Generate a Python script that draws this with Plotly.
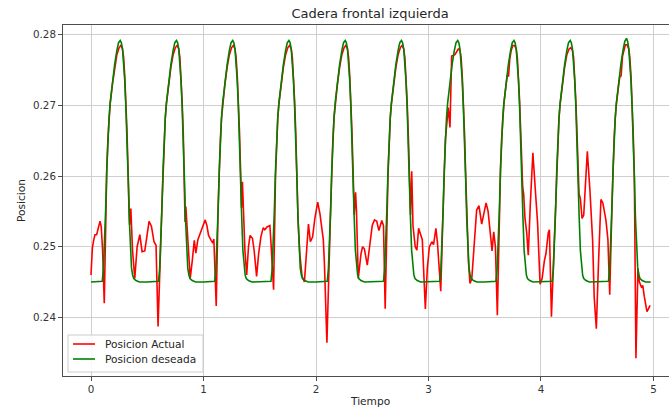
import plotly.graph_objects as go

title_text = "Cadera frontal izquierda"
x_label = "Tiempo"
y_label = "Posicion"
series_names = ["Posicion Actual", "Posicion deseada"]
series_colors = ["#ff0000", "#008000"]
x_ticks = [0, 1, 2, 3, 4, 5]
x_tick_labels = ["0", "1", "2", "3", "4", "5"]
y_ticks = [0.24, 0.25, 0.26, 0.27, 0.28]
y_tick_labels = ["0.24", "0.25", "0.26", "0.27", "0.28"]

# Desired position (green)
desired_time = [
    0.00, 0.10, 0.11, 0.12, 0.13, 0.14, 0.15, 0.16, 0.17, 0.19, 0.21, 0.23, 0.245, 0.26, 0.27, 0.28, 0.29, 0.30, 0.31, 0.32, 0.33, 0.34, 0.35, 0.36, 0.37, 0.38, 0.40, 0.43,
    0.50, 0.60, 0.61, 0.62, 0.63, 0.64, 0.65, 0.66, 0.67, 0.69, 0.71, 0.73, 0.745, 0.76, 0.77, 0.78, 0.79, 0.80, 0.81, 0.82, 0.83, 0.84, 0.85, 0.86, 0.87, 0.88, 0.90, 0.93,
    1.00, 1.10, 1.11, 1.12, 1.13, 1.14, 1.15, 1.16, 1.17, 1.19, 1.21, 1.23, 1.245, 1.26, 1.27, 1.28, 1.29, 1.30, 1.31, 1.32, 1.33, 1.34, 1.35, 1.36, 1.37, 1.38, 1.40, 1.43,
    1.50, 1.60, 1.61, 1.62, 1.63, 1.64, 1.65, 1.66, 1.67, 1.69, 1.71, 1.73, 1.745, 1.76, 1.77, 1.78, 1.79, 1.80, 1.81, 1.82, 1.83, 1.84, 1.85, 1.86, 1.87, 1.88, 1.90, 1.93,
    2.00, 2.10, 2.11, 2.12, 2.13, 2.14, 2.15, 2.16, 2.17, 2.19, 2.21, 2.23, 2.245, 2.26, 2.27, 2.28, 2.29, 2.30, 2.31, 2.32, 2.33, 2.34, 2.35, 2.36, 2.37, 2.38, 2.40, 2.43,
    2.50, 2.60, 2.61, 2.62, 2.63, 2.64, 2.65, 2.66, 2.67, 2.69, 2.71, 2.73, 2.745, 2.76, 2.77, 2.78, 2.79, 2.80, 2.81, 2.82, 2.83, 2.84, 2.85, 2.86, 2.87, 2.88, 2.90, 2.93,
    3.00, 3.10, 3.11, 3.12, 3.13, 3.14, 3.15, 3.16, 3.17, 3.19, 3.21, 3.23, 3.245, 3.26, 3.27, 3.28, 3.29, 3.30, 3.31, 3.32, 3.33, 3.34, 3.35, 3.36, 3.37, 3.38, 3.40, 3.43,
    3.50, 3.60, 3.61, 3.62, 3.63, 3.64, 3.65, 3.66, 3.67, 3.69, 3.71, 3.73, 3.745, 3.76, 3.77, 3.78, 3.79, 3.80, 3.81, 3.82, 3.83, 3.84, 3.85, 3.86, 3.87, 3.88, 3.90, 3.93,
    4.00, 4.10, 4.11, 4.12, 4.13, 4.14, 4.15, 4.16, 4.17, 4.19, 4.21, 4.23, 4.245, 4.26, 4.27, 4.28, 4.29, 4.30, 4.31, 4.32, 4.33, 4.34, 4.35, 4.36, 4.37, 4.38, 4.40, 4.43,
    4.50, 4.60, 4.61, 4.62, 4.63, 4.64, 4.65, 4.66, 4.67, 4.69, 4.71, 4.73, 4.745, 4.76, 4.77, 4.78, 4.79, 4.80, 4.81, 4.82, 4.83, 4.84, 4.85, 4.86, 4.87, 4.88, 4.90, 4.93,
    4.975,
]
desired_pos = [
    0.2450, 0.2451, 0.2468, 0.2500, 0.2552, 0.2608, 0.2650, 0.2682, 0.2703, 0.2733, 0.2758, 0.2778, 0.2789, 0.2792, 0.2789, 0.2780, 0.2763, 0.2735, 0.2698, 0.2655, 0.2598, 0.2540, 0.2495, 0.2470, 0.2460, 0.2455, 0.2452, 0.2450,
    0.2450, 0.2451, 0.2468, 0.2500, 0.2552, 0.2608, 0.2650, 0.2682, 0.2703, 0.2733, 0.2758, 0.2778, 0.2789, 0.2792, 0.2789, 0.2780, 0.2763, 0.2735, 0.2698, 0.2655, 0.2598, 0.2540, 0.2495, 0.2470, 0.2460, 0.2455, 0.2452, 0.2450,
    0.2450, 0.2451, 0.2468, 0.2500, 0.2552, 0.2608, 0.2650, 0.2682, 0.2703, 0.2733, 0.2758, 0.2778, 0.2789, 0.2792, 0.2789, 0.2780, 0.2763, 0.2735, 0.2698, 0.2655, 0.2598, 0.2540, 0.2495, 0.2470, 0.2460, 0.2455, 0.2452, 0.2450,
    0.2450, 0.2451, 0.2468, 0.2500, 0.2552, 0.2608, 0.2650, 0.2682, 0.2703, 0.2733, 0.2758, 0.2778, 0.2789, 0.2792, 0.2789, 0.2780, 0.2763, 0.2735, 0.2698, 0.2655, 0.2598, 0.2540, 0.2495, 0.2470, 0.2460, 0.2455, 0.2452, 0.2450,
    0.2450, 0.2451, 0.2468, 0.2500, 0.2552, 0.2608, 0.2650, 0.2682, 0.2703, 0.2733, 0.2758, 0.2778, 0.2789, 0.2792, 0.2789, 0.2780, 0.2763, 0.2735, 0.2698, 0.2655, 0.2598, 0.2540, 0.2495, 0.2470, 0.2460, 0.2455, 0.2452, 0.2450,
    0.2450, 0.2451, 0.2468, 0.2500, 0.2552, 0.2608, 0.2650, 0.2682, 0.2703, 0.2733, 0.2758, 0.2778, 0.2789, 0.2792, 0.2789, 0.2780, 0.2763, 0.2735, 0.2698, 0.2655, 0.2598, 0.2540, 0.2495, 0.2470, 0.2460, 0.2455, 0.2452, 0.2450,
    0.2450, 0.2451, 0.2468, 0.2500, 0.2552, 0.2608, 0.2650, 0.2682, 0.2703, 0.2733, 0.2758, 0.2778, 0.2789, 0.2792, 0.2789, 0.2780, 0.2763, 0.2735, 0.2698, 0.2655, 0.2598, 0.2540, 0.2495, 0.2470, 0.2460, 0.2455, 0.2452, 0.2450,
    0.2450, 0.2451, 0.2468, 0.2500, 0.2552, 0.2608, 0.2650, 0.2682, 0.2703, 0.2733, 0.2758, 0.2778, 0.2789, 0.2792, 0.2789, 0.2780, 0.2763, 0.2735, 0.2698, 0.2655, 0.2598, 0.2540, 0.2495, 0.2470, 0.2460, 0.2455, 0.2452, 0.2450,
    0.2450, 0.2451, 0.2468, 0.2500, 0.2552, 0.2608, 0.2650, 0.2682, 0.2703, 0.2733, 0.2758, 0.2778, 0.2789, 0.2792, 0.2789, 0.2780, 0.2763, 0.2735, 0.2698, 0.2655, 0.2598, 0.2540, 0.2495, 0.2470, 0.2460, 0.2455, 0.2452, 0.2450,
    0.2450, 0.2451, 0.2468, 0.2500, 0.2552, 0.2608, 0.2650, 0.2682, 0.2703, 0.2733, 0.2758, 0.2779, 0.2791, 0.2795, 0.2791, 0.2781, 0.2763, 0.2735, 0.2698, 0.2655, 0.2598, 0.2540, 0.2495, 0.2470, 0.2460, 0.2455, 0.2452, 0.2450,
    0.2450,
]

# Actual position (red)
actual_time = [
    0.000, 0.012, 0.025, 0.035, 0.050, 0.062, 0.080, 0.091, 0.103, 0.118,
    0.13, 0.14, 0.15, 0.16, 0.17, 0.19, 0.21, 0.23, 0.25, 0.265, 0.28, 0.29, 0.30, 0.31, 0.32, 0.33,
    0.343, 0.354, 0.369, 0.389, 0.410, 0.434, 0.454, 0.478, 0.499, 0.516, 0.537, 0.560, 0.578, 0.596,
    0.63, 0.64, 0.65, 0.66, 0.67, 0.69, 0.71, 0.73, 0.75, 0.765, 0.78, 0.79, 0.80, 0.81, 0.82, 0.83,
    0.836, 0.843, 0.862, 0.882, 0.900, 0.918, 0.932, 0.950, 0.985, 1.015, 1.030, 1.045, 1.068, 1.083, 1.092, 1.113,
    1.13, 1.14, 1.15, 1.16, 1.17, 1.19, 1.21, 1.23, 1.25, 1.265, 1.28, 1.29, 1.30, 1.31, 1.32, 1.33,
    1.338, 1.346, 1.356, 1.368, 1.384, 1.400, 1.414, 1.435, 1.450, 1.464, 1.472, 1.490, 1.510, 1.531, 1.545, 1.565, 1.590, 1.600, 1.623,
    1.64, 1.65, 1.66, 1.67, 1.69, 1.71, 1.73, 1.75, 1.765, 1.78, 1.79, 1.80, 1.81, 1.82, 1.83,
    1.840, 1.856, 1.876, 1.897, 1.915, 1.933, 1.950, 1.970, 1.990, 2.015, 2.035, 2.052, 2.065, 2.075, 2.097,
    2.13, 2.14, 2.15, 2.16, 2.17, 2.19, 2.21, 2.23, 2.25, 2.265, 2.28, 2.29, 2.30, 2.31, 2.32, 2.33,
    2.340, 2.352, 2.360, 2.376, 2.400, 2.414, 2.430, 2.456, 2.475, 2.500, 2.520, 2.540, 2.559, 2.585, 2.600, 2.615,
    2.64, 2.65, 2.66, 2.67, 2.69, 2.71, 2.73, 2.75, 2.765, 2.78, 2.79, 2.80, 2.81, 2.82, 2.83,
    2.840, 2.851, 2.862, 2.882, 2.897, 2.912, 2.930, 2.945, 2.972, 2.990, 3.008, 3.030, 3.045, 3.066, 3.080, 3.095, 3.109,
    3.13, 3.14, 3.15, 3.162, 3.176, 3.191, 3.206, 3.235, 3.265, 3.28, 3.29, 3.30, 3.31, 3.32, 3.33,
    3.340, 3.355, 3.369, 3.385, 3.405, 3.428, 3.449, 3.473, 3.490, 3.512, 3.530, 3.550, 3.565, 3.580, 3.595, 3.612,
    3.63, 3.64, 3.65, 3.66, 3.67, 3.69, 3.70, 3.712, 3.722, 3.735, 3.75, 3.765, 3.78, 3.79, 3.80, 3.81, 3.82, 3.83,
    3.837, 3.846, 3.858, 3.873, 3.887, 3.905, 3.928, 3.950, 3.970, 3.992, 4.010, 4.030, 4.044, 4.065, 4.075, 4.093,
    4.13, 4.14, 4.15, 4.16, 4.17, 4.19, 4.21, 4.23, 4.25, 4.265, 4.28, 4.29, 4.30, 4.31, 4.32, 4.33,
    4.338, 4.350, 4.365, 4.380, 4.412, 4.435, 4.459, 4.473, 4.492, 4.512, 4.533, 4.550, 4.577, 4.595, 4.611,
    4.63, 4.64, 4.65, 4.66, 4.67, 4.69, 4.70, 4.712, 4.725, 4.75, 4.765, 4.78, 4.79, 4.80, 4.81, 4.82, 4.83,
    4.844, 4.862, 4.875, 4.893, 4.905, 4.918, 4.942, 4.955, 4.970,
]
actual_pos = [
    0.2460, 0.2498, 0.2510, 0.2517, 0.2517, 0.2526, 0.2536, 0.2528, 0.2495, 0.2420,
    0.2556, 0.2610, 0.2652, 0.2682, 0.2702, 0.2730, 0.2754, 0.2772, 0.2782, 0.2785, 0.2780, 0.2768, 0.2742, 0.2706, 0.2662, 0.2605,
    0.2531, 0.2554, 0.2495, 0.2455, 0.2500, 0.2517, 0.2493, 0.2494, 0.2519, 0.2536, 0.2529, 0.2507, 0.2502, 0.2387,
    0.2556, 0.2610, 0.2652, 0.2682, 0.2702, 0.2730, 0.2754, 0.2772, 0.2782, 0.2785, 0.2780, 0.2768, 0.2742, 0.2706, 0.2662, 0.2605,
    0.2535, 0.2557, 0.2500, 0.2455, 0.2480, 0.2509, 0.2491, 0.2510, 0.2525, 0.2538, 0.2530, 0.2516, 0.2509, 0.2505, 0.2511, 0.2416,
    0.2556, 0.2610, 0.2652, 0.2682, 0.2702, 0.2730, 0.2754, 0.2772, 0.2782, 0.2785, 0.2780, 0.2768, 0.2742, 0.2706, 0.2662, 0.2605,
    0.2555, 0.2592, 0.2550, 0.2495, 0.2460, 0.2500, 0.2516, 0.2512, 0.2495, 0.2476, 0.2458, 0.2490, 0.2514, 0.2527, 0.2524, 0.2528, 0.2530, 0.2505, 0.2439,
    0.2600, 0.2652, 0.2682, 0.2702, 0.2730, 0.2754, 0.2772, 0.2782, 0.2785, 0.2780, 0.2768, 0.2742, 0.2706, 0.2662, 0.2605,
    0.2540, 0.2490, 0.2458, 0.2450, 0.2490, 0.2532, 0.2507, 0.2514, 0.2540, 0.2563, 0.2547, 0.2524, 0.2510, 0.2476, 0.2364,
    0.2552, 0.2610, 0.2652, 0.2682, 0.2702, 0.2730, 0.2754, 0.2772, 0.2782, 0.2785, 0.2780, 0.2768, 0.2742, 0.2706, 0.2662, 0.2605,
    0.2545, 0.2577, 0.2550, 0.2455, 0.2490, 0.2500, 0.2497, 0.2474, 0.2496, 0.2530, 0.2538, 0.2536, 0.2523, 0.2537, 0.2530, 0.2412,
    0.2600, 0.2652, 0.2682, 0.2702, 0.2730, 0.2754, 0.2772, 0.2782, 0.2785, 0.2780, 0.2768, 0.2742, 0.2706, 0.2662, 0.2605,
    0.2545, 0.2607, 0.2530, 0.2500, 0.2495, 0.2526, 0.2518, 0.2510, 0.2412, 0.2470, 0.2500, 0.2507, 0.2503, 0.2526, 0.2505, 0.2470, 0.2437,
    0.2552, 0.2610, 0.2652, 0.2673, 0.2697, 0.2669, 0.2770, 0.2772, 0.2780, 0.2778, 0.2768, 0.2742, 0.2706, 0.2662, 0.2605,
    0.2545, 0.2480, 0.2448, 0.2455, 0.2500, 0.2552, 0.2558, 0.2532, 0.2545, 0.2562, 0.2550, 0.2515, 0.2494, 0.2521, 0.2500, 0.2403,
    0.2552, 0.2610, 0.2652, 0.2682, 0.2702, 0.2730, 0.2742, 0.2742, 0.2765, 0.2778, 0.2785, 0.2785, 0.2780, 0.2768, 0.2742, 0.2706, 0.2662, 0.2600,
    0.2585, 0.2575, 0.2540, 0.2520, 0.2488, 0.2560, 0.2633, 0.2580, 0.2533, 0.2447, 0.2455, 0.2480, 0.2490, 0.2520, 0.2524, 0.2401,
    0.2552, 0.2610, 0.2652, 0.2682, 0.2702, 0.2730, 0.2754, 0.2772, 0.2780, 0.2782, 0.2778, 0.2768, 0.2742, 0.2706, 0.2662, 0.2600,
    0.2575, 0.2568, 0.2540, 0.2545, 0.2635, 0.2580, 0.2509, 0.2429, 0.2384, 0.2480, 0.2567, 0.2562, 0.2538, 0.2510, 0.2432,
    0.2552, 0.2610, 0.2652, 0.2682, 0.2702, 0.2728, 0.2740, 0.2742, 0.2770, 0.2786, 0.2786, 0.2780, 0.2768, 0.2742, 0.2706, 0.2660, 0.2600,
    0.2342, 0.2469, 0.2450, 0.2443, 0.2445, 0.2430, 0.2408, 0.2412, 0.2417,
]

FONT = "DejaVu Sans"
W, H = 669, 412
L, T, B = 63, 25, 36
plot_w = W - L
plot_h = H - T - B
BOTTOM_PX = H - B


def px_x(px):
    return (px - L) / plot_w


def px_y(py):
    return (BOTTOM_PX - py) / plot_h


fig = go.Figure()
fig.add_trace(go.Scatter(x=actual_time, y=actual_pos, mode="lines", name=series_names[0],
                         line=dict(color=series_colors[0], width=1.6)))
fig.add_trace(go.Scatter(x=desired_time, y=desired_pos, mode="lines", name=series_names[1],
                         line=dict(color=series_colors[1], width=1.6)))

axis_common = dict(showgrid=True, gridcolor="#cfcfcf", gridwidth=1, zeroline=False,
                   showline=True, linecolor="#4d4d4d", linewidth=1,
                   ticks="outside", ticklen=4, tickcolor="#4d4d4d", tickwidth=1,
                   tickfont=dict(family=FONT, size=10.3, color="#333333"))

# legend drawn in the matplotlib style: framed box, short line samples, labels
legend_box = dict(type="rect", xref="paper", yref="paper",
                  x0=px_x(68), x1=px_x(203), y0=px_y(372), y1=px_y(335),
                  fillcolor="rgba(255,255,255,0.85)", line=dict(color="#cccccc", width=1),
                  layer="above")
shapes = [legend_box]
annotations = []
legend_rows = [344, 359]
for name, color, row in zip(series_names, series_colors, legend_rows):
    shapes.append(dict(type="line", xref="paper", yref="paper",
                       x0=px_x(73), x1=px_x(95), y0=px_y(row), y1=px_y(row),
                       line=dict(color=color, width=1.6), layer="above"))
    annotations.append(dict(text=name, xref="paper", yref="paper", x=px_x(103), y=px_y(row),
                            xanchor="left", yanchor="middle", showarrow=False,
                            font=dict(family=FONT, size=10.6, color="#262626")))

annotations += [
    dict(text=x_label, xref="paper", yref="paper", x=px_x(370), y=px_y(401),
         xanchor="center", yanchor="middle", showarrow=False,
         font=dict(family=FONT, size=10.6, color="#262626")),
    dict(text=y_label, xref="paper", yref="paper", x=px_x(20.5), y=0.5,
         xanchor="center", yanchor="middle", showarrow=False, textangle=-90,
         font=dict(family=FONT, size=10.6, color="#262626")),
]

fig.update_layout(
    width=W, height=H,
    margin=dict(l=L, r=0, t=T, b=B, pad=0),
    paper_bgcolor="white", plot_bgcolor="white",
    font=dict(family=FONT, size=10, color="#333333"),
    title=dict(text=title_text, font=dict(family=FONT, size=13, color="#262626"),
               xref="container", yref="container", x=370 / W, y=1 - 13 / H,
               xanchor="center", yanchor="middle"),
    xaxis=dict(range=[-0.249, 5.138], tickvals=x_ticks, ticktext=x_tick_labels,
               mirror=True, **axis_common),
    yaxis=dict(range=[0.23169, 0.2814], tickvals=y_ticks, ticktext=y_tick_labels,
               mirror=False, **axis_common),
    showlegend=False,
    shapes=shapes,
    annotations=annotations,
)

fig.write_html("out.html")
